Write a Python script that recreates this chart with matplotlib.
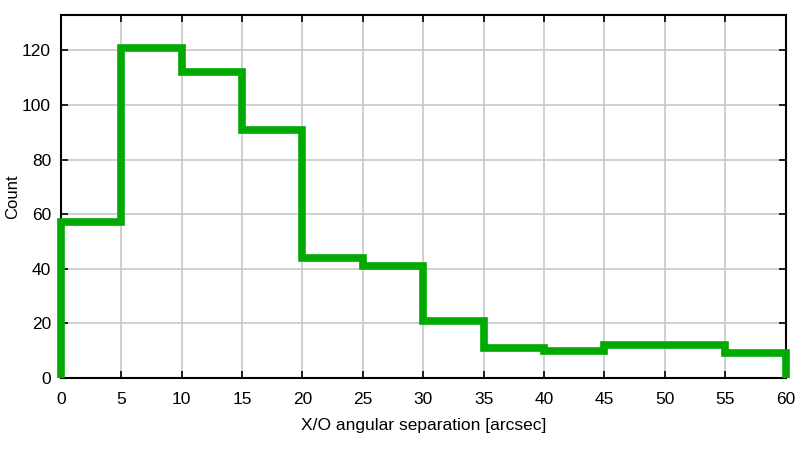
import numpy as np
import matplotlib.pyplot as plt

plt.rcParams['font.family'] = ['Liberation Sans', 'DejaVu Sans']

# Histogram of X/O separations
bin_edges = [0, 5, 10, 15, 20, 25, 30, 35, 40, 45, 50, 55, 60]
counts = [57, 121, 112, 91, 44, 41, 21, 11, 10, 12, 12, 9]
x_ticks = [0, 5, 10, 15, 20, 25, 30, 35, 40, 45, 50, 55, 60]
y_ticks = [0, 20, 40, 60, 80, 100, 120]

fig = plt.figure(figsize=(8, 4.5), dpi=100)
ax = fig.add_axes([0.076, 0.16, 0.906, 0.807])

ax.stairs(counts, bin_edges, baseline=0, color='#00aa00', linewidth=5.5,
          clip_on=False, zorder=3)

ax.set_xlim(0, 60)
ax.set_ylim(0, 133)
ax.set_xticks(x_ticks)
ax.set_yticks(y_ticks)
ax.grid(True, color='#c8c8c8', linewidth=1.2)
ax.set_axisbelow(True)
ax.tick_params(direction='in', top=True, right=True, labelsize=12.5, length=5,
               width=1.2)
ax.tick_params(axis='x', pad=10)
ax.tick_params(axis='y', pad=7)
for s in ax.spines.values():
    s.set_linewidth(1.5)

ax.set_xlabel('X/O angular separation [arcsec]', fontsize=12.5, labelpad=8)
ax.set_ylabel('Count', fontsize=12)
ax.yaxis.set_label_coords(-0.056, 0.5)

fig.savefig('out.png')
